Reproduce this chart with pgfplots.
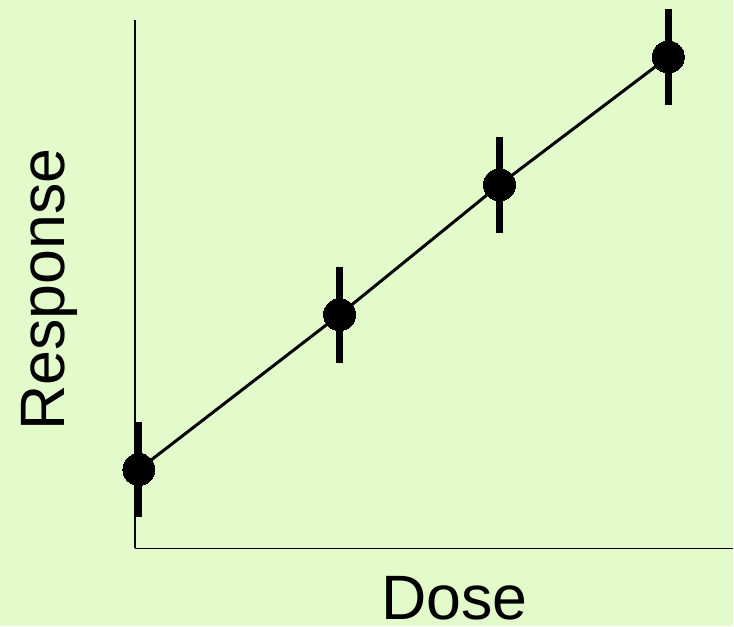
\documentclass[border=0pt]{standalone}
\usepackage{pgfplots}
\pgfplotsset{compat=1.18}
\usepackage{fontspec}
\setmainfont{Liberation Sans}
\definecolor{bg}{HTML}{E3FBCA}
\begin{document}
\begin{tikzpicture}[x=1bp,y=1bp]
\fill[bg] (-135bp,-78bp) rectangle (599bp,549bp);
\begin{axis}[
  scale only axis, width=599bp, height=529bp,
  xmin=0, xmax=599, ymin=0, ymax=529,
  axis x line=bottom, axis y line=left,
  axis line style={line width=1.6bp, -},
  xtick=\empty, ytick=\empty,
  clip=false,
]
\addplot[line width=3bp, black,
  mark=*, mark size=16bp, mark options={fill=black, draw=black, line width=0bp},
  error bars/.cd, y dir=both, y explicit,
  error bar style={line width=7bp, black}, error mark=none]
  table[y error=e] {
x y e
4 79 48
205 234 48
365 364 48
534 492 48
};
\end{axis}
\begin{scope}
\clip (-135bp,-78bp) rectangle (599bp,549bp);
\node[font=\fontsize{63}{68}\selectfont, anchor=base] at (320bp,-71bp) {Dose};
\end{scope}
\node[font=\fontsize{63}{68}\selectfont, rotate=90, anchor=base] at (-70bp,259bp) {Response};
\end{tikzpicture}
\end{document}
